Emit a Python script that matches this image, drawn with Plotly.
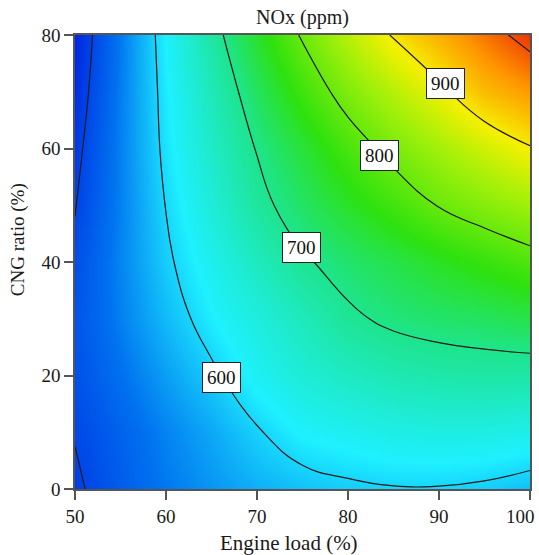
import plotly.graph_objects as go

# Engine load (%) grid columns and CNG ratio (%) grid rows
engine_load = [50, 55, 60, 65, 70, 75, 80, 85, 90, 95, 100]
cng_ratio = [0, 10, 20, 30, 40, 50, 60, 70, 80]

# NOx (ppm) values, one list per CNG row
nox_c0 = [494, 521, 543, 561, 576, 587, 594, 598, 598, 594, 585]
nox_c10 = [502, 526, 550, 572, 597, 618, 626, 634, 637, 636, 631]
nox_c20 = [510, 538, 566, 594, 623, 645, 660, 671, 678, 681, 680]
nox_c30 = [513, 548, 583, 614, 639, 665, 693, 708, 716, 722, 731]
nox_c40 = [508, 551, 594, 628, 662, 695, 715, 732, 750, 767, 784]
nox_c50 = [498, 549, 601, 644, 688, 720, 748, 775, 802, 822, 840]
nox_c60 = [490, 549, 608, 656, 702, 740, 779, 813, 841, 870, 897]
nox_c70 = [480, 547, 612, 668, 722, 773, 817, 854, 890, 933, 957]
nox_c80 = [472, 545, 617, 684, 746, 805, 855, 904, 942, 980, 1018]
nox = [nox_c0, nox_c10, nox_c20, nox_c30, nox_c40, nox_c50, nox_c60, nox_c70, nox_c80]

# tick labels (the last x label is drawn as an annotation so it stays inside the page)
x_ticks = [50, 60, 70, 80, 90, 100]
x_ticktext = ["50", "60", "70", "80", "90", ""]
x_last_label = "100"
y_ticks = [0, 20, 40, 60, 80]

# contour label boxes (value, engine load, CNG ratio)
label_values = [600, 700, 800, 900]
label_load = [66.1, 74.9, 83.5, 90.7]
label_cng = [19.7, 42.6, 58.7, 71.5]

zmin, zmax = 470, 1025
stops = [
    (470, "rgb(0,35,225)"),
    (540, "rgb(0,115,240)"),
    (615, "rgb(30,240,255)"),
    (700, "rgb(30,228,140)"),
    (760, "rgb(45,225,15)"),
    (840, "rgb(160,240,10)"),
    (895, "rgb(245,240,0)"),
    (960, "rgb(255,150,0)"),
    (1025, "rgb(235,40,0)"),
]
colorscale = [[(v - zmin) / (zmax - zmin), c] for v, c in stops]

serif = "Liberation Serif, Times New Roman, serif"
txt = "#1a1a1a"

fig = go.Figure()
fig.add_trace(go.Contour(
    x=engine_load, y=cng_ratio, z=nox,
    zmin=zmin, zmax=zmax, colorscale=colorscale, showscale=False,
    contours=dict(start=500, end=1000, size=100, coloring="heatmap", showlabels=False),
    line=dict(color="#1a1a1a", width=1.2, smoothing=1.3),
    hoverinfo="skip",
))

for v, lx, ly in zip(label_values, label_load, label_cng):
    fig.add_annotation(
        x=lx, y=ly, xref="x", yref="y", text=str(v), showarrow=False,
        font=dict(family=serif, size=19, color="#111"),
        bgcolor="white", bordercolor="#222", borderwidth=1, borderpad=4,
    )

# last x tick label, pulled inside the right page edge like the reference
fig.add_annotation(x=(537 - 75) / 455, y=(489 - 516) / 454, xref="paper", yref="paper",
                   text=x_last_label, showarrow=False, xanchor="right", yanchor="middle",
                   font=dict(family=serif, size=19, color=txt))

# axis titles (placed as in the reference)
fig.add_annotation(x=0.47, y=-54 / 454, xref="paper", yref="paper",
                   text="Engine load (%)", showarrow=False,
                   xanchor="center", yanchor="middle",
                   font=dict(family=serif, size=21, color=txt))
fig.add_annotation(x=-57 / 455, y=0.548, xref="paper", yref="paper",
                   text="CNG ratio (%)", showarrow=False, textangle=-90,
                   xanchor="center", yanchor="middle",
                   font=dict(family=serif, size=19, color=txt))

axis_common = dict(
    showgrid=False, zeroline=False, showline=True, linecolor="#555", linewidth=1.5,
    mirror=True, ticks="outside", ticklen=9, tickwidth=1.5, tickcolor="#555",
    tickfont=dict(family=serif, size=19, color=txt), automargin=False,
)

fig.update_layout(
    width=539, height=555,
    margin=dict(l=75, r=9, t=35, b=66, autoexpand=False),
    paper_bgcolor="white", plot_bgcolor="white",
    title=dict(text="NOx (ppm)", x=0.5, xref="paper", xanchor="center",
               y=1 - 17 / 555, yref="container", yanchor="middle",
               font=dict(family=serif, size=20, color=txt)),
    xaxis=dict(range=[50, 100], tickvals=x_ticks, ticktext=x_ticktext, **axis_common),
    yaxis=dict(range=[0, 80], tickvals=y_ticks, **axis_common),
)

fig.write_html("out.html")
